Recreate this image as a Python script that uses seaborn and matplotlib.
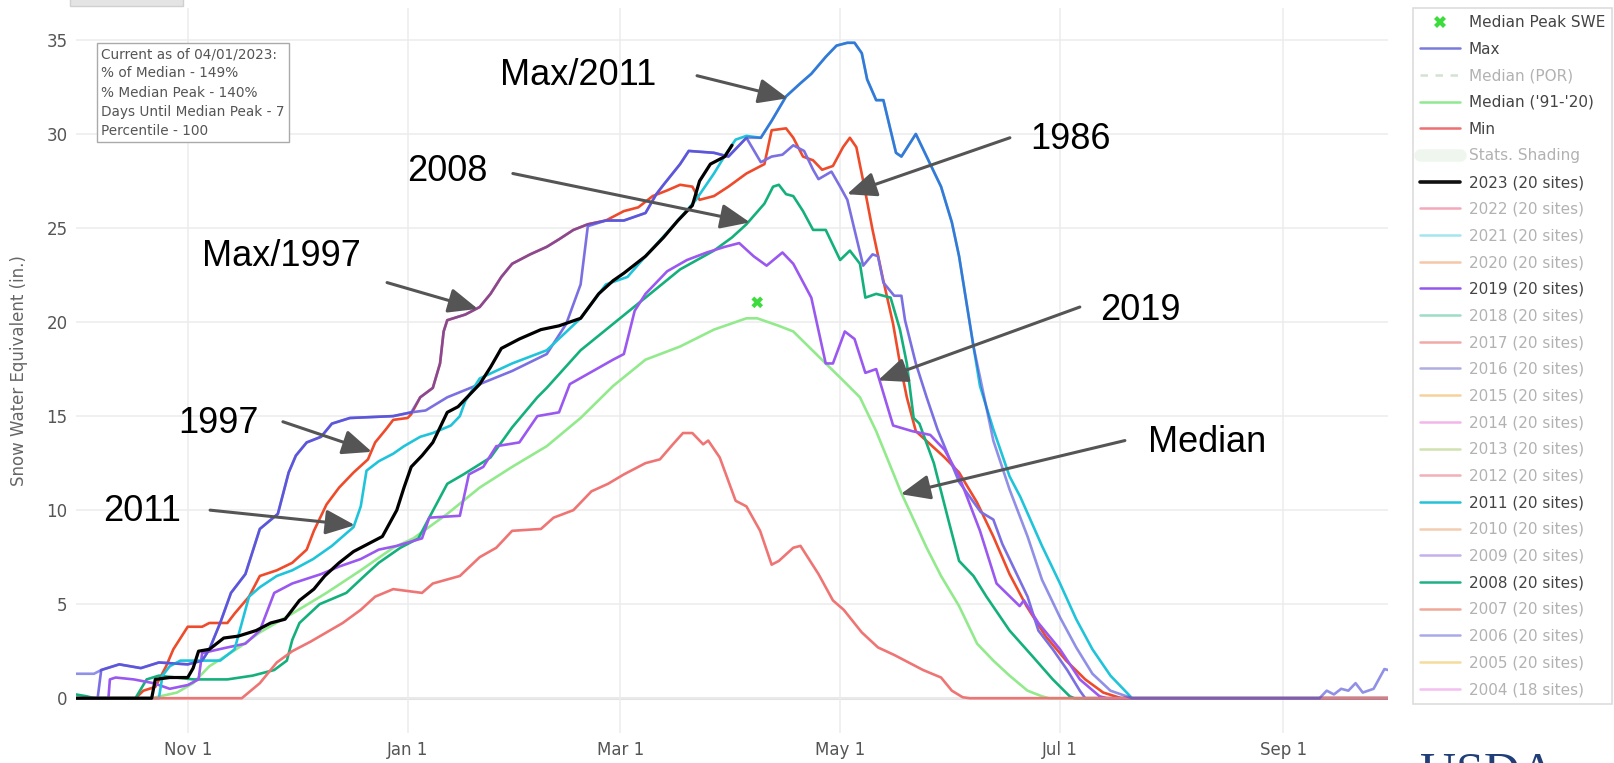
import numpy as np
import pandas as pd
import seaborn as sns
import matplotlib.pyplot as plt
from matplotlib.lines import Line2D
from matplotlib.patches import Rectangle

# SWE (in.); days counted from Oct 1 2022
max_days = [0, 5, 7, 12, 18, 23, 31, 35, 37, 40, 43, 47, 51, 56, 59, 61, 64, 68, 71, 76, 88, 93, 95.5, 99, 101, 102,
            103, 108, 112, 115, 118, 121, 126, 130.6, 134, 138, 142, 147, 152, 158, 161, 163, 167.6, 170, 177, 181,
            186, 190, 193, 197, 201, 204, 208, 211, 214, 216, 218, 219.5, 222, 224, 227.5, 229, 233, 237, 240, 243,
            245, 249, 251, 254.5, 259, 264, 268, 273, 277.5, 282, 287, 293, 345, 347, 349, 351, 353, 355, 357, 360,
            362, 363, 364]
max_swe = [1.3, 1.3, 1.5, 1.8, 1.6, 1.9, 1.8, 2.0, 2.6, 4.0, 5.6, 6.6, 9.0, 9.8, 12.0, 12.9, 13.6, 13.9, 14.6, 14.9,
           15.0, 15.2, 16.0, 16.5, 17.8, 19.5, 20.1, 20.4, 20.8, 21.5, 22.4, 23.1, 23.6, 24.0, 24.4, 24.9, 25.2, 25.4,
           25.4, 25.8, 26.8, 27.3, 28.4, 29.1, 29.0, 28.8, 29.8, 29.8, 30.7, 32.0, 32.7, 33.2, 34.1, 34.7, 34.85,
           34.85, 34.3, 32.9, 31.8, 31.8, 29.0, 28.8, 30.0, 28.4, 27.2, 25.3, 23.5, 18.7, 16.9, 13.7, 11.1, 8.6, 6.3,
           4.3, 2.7, 1.3, 0.4, 0, 0, 0.4, 0.2, 0.5, 0.4, 0.8, 0.3, 0.5, 1.2, 1.55, 1.5]

median_days = [0, 21, 28, 32.5, 37, 42, 46, 51, 60, 69.5, 79, 88, 93.6, 103, 112, 121, 130.6, 140, 149, 158, 167.6,
               177, 186, 189, 195, 199, 208, 212.8, 217.5, 222, 229, 236, 240, 245, 250, 254.5, 259, 264, 268, 270, 364]
median_swe = [0, 0, 0.3, 0.8, 1.7, 2.3, 2.8, 3.5, 4.5, 5.6, 6.8, 8.0, 8.5, 9.8, 11.2, 12.3, 13.4, 14.9, 16.6, 18.0,
              18.7, 19.6, 20.2, 20.2, 19.8, 19.5, 17.8, 16.9, 16.0, 14.2, 10.9, 8.0, 6.5, 4.9, 2.9, 2.0, 1.2, 0.4, 0.1,
              0, 0]

min_days = [0, 46, 51, 55.7, 60, 65, 69.5, 74, 79, 83, 88, 96, 99, 106.5, 112, 116.6, 121, 129, 132.5, 138, 143,
            147.6, 152, 158, 162, 165.6, 168.4, 171, 174, 175.4, 178.6, 183, 186, 189.8, 193, 195, 199, 201, 203, 206,
            210, 213, 218, 222.5, 227, 232, 235, 240, 243, 246, 248, 364]
min_swe = [0, 0, 0.8, 1.9, 2.5, 3.0, 3.5, 4.0, 4.7, 5.4, 5.8, 5.6, 6.1, 6.5, 7.5, 8.0, 8.9, 9.0, 9.6, 10.0, 11.0, 11.4,
           11.9, 12.5, 12.7, 13.5, 14.1, 14.1, 13.5, 13.7, 12.8, 10.5, 10.2, 8.9, 7.1, 7.3, 8.0, 8.1, 7.5, 6.6, 5.2,
           4.7, 3.5, 2.7, 2.3, 1.8, 1.5, 1.1, 0.4, 0.05, 0, 0]

y2023_days = [0, 21, 22, 26, 31, 32.5, 34, 37, 41, 45, 50, 54, 58, 62, 66, 69, 73, 77, 81, 85, 87, 89, 91, 93, 96, 99,
              103, 106, 109, 112, 115, 118, 123, 129, 134, 140, 145, 149, 152, 158, 163, 167, 171, 173, 176, 180, 182]
y2023_swe = [0, 0, 1.0, 1.1, 1.1, 1.6, 2.5, 2.6, 3.2, 3.3, 3.6, 4.0, 4.2, 5.2, 5.8, 6.5, 7.2, 7.8, 8.2, 8.6, 9.3, 10.0,
             11.2, 12.3, 12.9, 13.6, 15.2, 15.5, 16.1, 16.7, 17.6, 18.6, 19.1, 19.6, 19.8, 20.2, 21.5, 22.2, 22.6, 23.5,
             24.5, 25.4, 26.2, 27.5, 28.4, 28.8, 29.4]

y2019_days = [0, 9, 9.4, 11, 16, 21.5, 26, 31, 34, 35, 42, 47, 51, 55, 60, 68, 73, 79, 84, 89, 96, 98, 106.5, 109,
              113, 116.6, 123, 128, 134, 137, 149, 152, 155, 158, 164, 169.5, 175, 180, 184, 188, 191.6, 196, 199,
              204, 208, 210, 213.3, 216, 219, 222, 226.7, 232, 237, 241, 245, 250.8, 255.4, 261.8, 263, 267, 273,
              278.5, 284, 286, 364]
y2019_swe = [0, 0, 1.0, 1.1, 1.0, 0.8, 0.5, 0.7, 1.0, 2.4, 2.7, 2.9, 3.6, 5.6, 6.1, 6.6, 7.0, 7.4, 7.9, 8.1, 8.5, 9.6,
             9.7, 11.9, 12.3, 13.4, 13.6, 15.0, 15.2, 16.7, 18.0, 18.3, 20.6, 21.5, 22.7, 23.3, 23.7, 24.0, 24.2, 23.5,
             23.0, 23.7, 23.1, 21.3, 17.8, 17.8, 19.5, 19.1, 17.3, 17.5, 14.5, 14.2, 14.0, 13.2, 11.8, 8.9, 6.1, 4.9,
             5.2, 4.0, 2.6, 1.0, 0.1, 0, 0]

y2011_days = [0, 23, 24, 26, 29, 35, 40, 44, 46, 48, 51, 55.7, 60, 65.8, 71, 77, 79, 80.6, 84, 88, 91, 95.5, 99, 104,
              106.5, 108, 112, 121, 130.6, 140, 147, 153, 158, 165.6, 172, 177, 180.5, 183, 186, 190, 193, 197, 201,
              204, 208, 211, 214, 216, 218, 219.5, 222, 224, 227.5, 229, 233, 237, 240, 243, 245, 249, 250.8, 254.5,
              259, 262, 268, 273, 277.5, 282, 287, 293, 364]
y2011_swe = [0, 0, 1.2, 1.7, 2.0, 2.0, 2.0, 2.6, 4.0, 5.4, 5.9, 6.5, 6.8, 7.4, 8.1, 9.1, 10.2, 12.1, 12.6, 13.0, 13.4,
             13.9, 14.1, 14.5, 15.0, 15.8, 17.0, 17.8, 18.5, 20.2, 22.0, 22.4, 23.5, 25.1, 26.5, 27.9, 29.0, 29.7, 29.9,
             29.8, 30.7, 32.0, 32.7, 33.2, 34.1, 34.7, 34.85, 34.85, 34.3, 32.9, 31.8, 31.8, 29.0, 28.8, 30.0, 28.4,
             27.2, 25.3, 23.5, 18.7, 16.6, 14.3, 11.8, 10.7, 8.1, 6.1, 4.2, 2.6, 1.2, 0, 0]

y2008_days = [0, 3, 5, 16.5, 19.6, 23, 32.5, 42, 49, 55, 58.5, 60, 62, 67.6, 75, 80, 84, 90, 95, 98, 103, 107.5, 115,
              121, 128, 130.6, 140, 149, 158, 167.6, 177, 182, 186, 191, 193.4, 195, 197, 199, 201.7, 204.5, 208, 212,
              214.7, 217.5, 219, 222, 226, 228.6, 230.5, 232.4, 234, 238, 242, 245, 249, 252.6, 259, 265.5, 271,
              275.7, 277, 364]
y2008_swe = [0.2, 0.1, 0, 0, 1.0, 1.2, 1.0, 1.0, 1.2, 1.5, 2.0, 3.1, 4.0, 5.0, 5.6, 6.5, 7.2, 8.0, 8.5, 9.6, 11.4,
             11.9, 12.8, 14.4, 16.0, 16.5, 18.5, 19.9, 21.3, 22.8, 23.8, 24.5, 25.2, 26.3, 27.2, 27.3, 26.8, 26.7,
             25.9, 24.9, 24.9, 23.3, 23.8, 23.1, 21.3, 21.5, 21.3, 19.6, 17.8, 14.9, 14.6, 12.5, 9.5, 7.3, 6.5, 5.4,
             3.6, 2.2, 1.0, 0.1, 0, 0]

y1997_days = [0, 16.5, 18.7, 22, 25, 27, 31, 35, 37, 42, 44, 48, 51, 55.7, 60, 64, 66, 69.5, 73, 77, 81, 83, 86, 88,
              92, 93, 95.5, 99, 101, 102, 103, 108, 112, 115, 118, 121, 126, 130.6, 134, 138, 142, 147, 152, 156, 160,
              164, 167.6, 171, 173, 177, 181, 186, 191, 193, 197, 199, 201.7, 204.5, 207, 210, 212.8, 214.7, 216.5,
              218.4, 221, 224, 226.7, 228.6, 230.5, 233, 237, 241, 245, 250, 254.5, 259, 263.7, 269, 274.7, 280, 285,
              290, 364]
y1997_swe = [0, 0, 0.4, 0.6, 1.7, 2.6, 3.8, 3.8, 4.0, 4.0, 4.5, 5.4, 6.5, 6.8, 7.2, 7.9, 8.9, 10.3, 11.2, 12.0, 12.7,
             13.6, 14.3, 14.8, 14.9, 15.1, 16.0, 16.5, 17.8, 19.5, 20.1, 20.4, 20.8, 21.5, 22.4, 23.1, 23.6, 24.0,
             24.4, 24.9, 25.2, 25.4, 25.9, 26.1, 26.7, 27.0, 27.3, 27.2, 26.5, 26.7, 27.2, 27.9, 28.4, 30.2, 30.3,
             29.8, 28.8, 28.6, 28.1, 28.3, 29.3, 29.8, 29.3, 27.5, 24.9, 22.2, 19.9, 17.8, 16.0, 14.2, 13.5, 12.8,
             12.0, 10.4, 8.6, 6.6, 4.9, 3.3, 2.0, 1.0, 0.3, 0, 0]

y1986_days = [0, 6, 7, 12, 18, 23, 31, 35, 37, 40, 43, 47, 51, 56, 59, 61, 64, 68, 71, 76, 88, 93, 97, 103, 112, 121,
              130.6, 136, 140, 142, 147, 152, 158, 161, 163, 167.6, 170, 177, 181, 186, 190, 193, 196, 199, 202,
              204.5, 206, 209.6, 212, 214, 216, 218.4, 221, 222.5, 224, 227, 229, 230, 233, 236, 239, 245, 251, 254.5,
              257, 261, 264, 267, 271, 275, 278.5, 280, 364]
y1986_swe = [0, 0, 1.5, 1.8, 1.6, 1.9, 1.8, 2.0, 2.6, 4.0, 5.6, 6.6, 9.0, 9.8, 12.0, 12.9, 13.6, 13.9, 14.6, 14.9,
             15.0, 15.2, 15.3, 16.0, 16.7, 17.4, 18.3, 19.9, 22.0, 25.1, 25.4, 25.4, 25.8, 26.8, 27.3, 28.4, 29.1,
             29.0, 28.8, 29.8, 28.5, 28.8, 28.9, 29.4, 29.1, 28.1, 27.6, 28.0, 27.2, 26.5, 24.9, 23.0, 23.6, 23.5,
             22.1, 21.4, 21.4, 20.1, 17.8, 16.0, 14.3, 11.5, 9.9, 9.5, 8.2, 6.6, 5.4, 3.6, 2.6, 1.5, 0.4, 0, 0]

median_peak_day = 189
median_peak_swe = 21.05

tick_days = [31, 92, 151, 212, 273, 335]
tick_labels = ["Nov 1", "Jan 1", "Mar 1", "May 1", "Jul 1", "Sep 1"]

legend_labels = ["Median Peak SWE", "Max", "Median (POR)", "Median ('91-'20)", "Min", "Stats. Shading",
                 "2023 (20 sites)", "2022 (20 sites)", "2021 (20 sites)", "2020 (20 sites)", "2019 (20 sites)",
                 "2018 (20 sites)", "2017 (20 sites)", "2016 (20 sites)", "2015 (20 sites)", "2014 (20 sites)",
                 "2013 (20 sites)", "2012 (20 sites)", "2011 (20 sites)", "2010 (20 sites)", "2009 (20 sites)",
                 "2008 (20 sites)", "2007 (20 sites)", "2006 (20 sites)", "2005 (20 sites)", "2004 (18 sites)"]
legend_colors = ["#3ddc3d", "#7a7ade", "#d3e3d3", "#90e890", "#ef7070", "#eef6ee", "#111111", "#f3a9b8", "#a3e7ee",
                 "#f5c6a8", "#9457ee", "#9fdcc4", "#f1a9a6", "#aeaee2", "#f4d29a", "#f3b5ea", "#cfe2b0", "#f3afb8",
                 "#22c3d9", "#f3cdb0", "#c4b0ea", "#1fb184", "#f0a89a", "#a9a9ea", "#f4dc9c", "#f3c0f0"]
legend_active = [True, True, False, True, True, False, True, False, False, False, True, False, False, False,
                 False, False, False, False, True, False, False, True, False, False, False, False]

start = pd.Timestamp("2022-10-01")


def to_dates(days):
    return start + pd.to_timedelta(np.asarray(days, dtype=float), unit="D")


sns.set_theme(style="white")
plt.rcParams["font.family"] = ["DejaVu Sans"]

W, H = 1615, 763
fig = plt.figure(figsize=(W / 100, H / 100), dpi=100)
ax = fig.add_axes([76 / W, 30 / H, (1388 - 76) / W, (755 - 30) / H])

series = [
    (median_days, median_swe, "#92ea8c", 1.0, 1.9),
    (y1997_days, y1997_swe, "#ee4b2b", 1.0, 1.9),
    (y1986_days, y1986_swe, "#7b70e2", 1.0, 1.9),
    (y2008_days, y2008_swe, "#14b07c", 1.0, 1.9),
    (y2019_days, y2019_swe, "#9a58f0", 1.0, 1.9),
    (y2011_days, y2011_swe, "#20c4da", 1.0, 1.9),
    (min_days, min_swe, "#ef7575", 1.0, 1.9),
    (max_days, max_swe, "#4646d6", 0.6, 1.9),
    (y2023_days, y2023_swe, "#000000", 1.0, 2.3),
]
for d, v, c, a, w in series:
    sns.lineplot(x=to_dates(d), y=v, color=c, alpha=a, lw=w, estimator=None, ax=ax)

sns.scatterplot(x=to_dates([median_peak_day]), y=[median_peak_swe], marker="X", s=70,
                color="#3ddc3d", edgecolor="none", ax=ax, zorder=5)

ax.set_xlim(start, start + pd.Timedelta(days=364))
ax.set_ylim(-1.85, 36.7)
ax.set_yticks(range(0, 36, 5))
ax.set_xticks(to_dates(tick_days))
ax.set_xticklabels(tick_labels)
ax.grid(True, color="#ececec", lw=1.1)
ax.axhline(0, color="#e2e2e2", lw=2.2, zorder=0)
for s in ax.spines.values():
    s.set_visible(False)
ax.tick_params(length=0, labelsize=12, labelcolor="#555555")
ax.tick_params(axis="x", pad=6)
ax.tick_params(axis="y", pad=6)
ax.set_xlabel("")
ax.set_ylabel("")
fig.text(19 / W, 1 - 371 / H, "Snow Water Equivalent (in.)", rotation=90, ha="center", va="center",
         fontsize=12, color="#666666")

# info box
fig.text(101 / W, 1 - 47 / H, "Current as of 04/01/2023:\n% of Median - 149%\n% Median Peak - 140%\n"
         "Days Until Median Peak - 7\nPercentile - 100", ha="left", va="top",
         fontsize=9.8, color="#555555", linespacing=1.48,
         bbox=dict(boxstyle="square,pad=0.3", fc="white", ec="#aaaaaa", lw=1))

# callouts: label, text (day, swe), arrow tail (day, swe), arrow tip (day, swe)
callouts = [
    ("Max/2011", (139.3, 33.1), (172.3, 33.1), (197.5, 31.9)),
    ("2008", (102.9, 28.0), (121.2, 27.9), (187.0, 25.3)),
    ("1986", (276.0, 29.7), (259.1, 29.8), (213.9, 26.8)),
    ("Max/1997", (56.9, 23.5), (86.3, 22.1), (111.5, 20.7)),
    ("2019", (295.4, 20.6), (278.5, 20.8), (222.5, 16.9)),
    ("1997", (39.4, 14.6), (57.4, 14.7), (82.1, 13.1)),
    ("2011", (18.3, 9.95), (37.2, 10.0), (77.4, 9.2)),
    ("Median", (313.7, 13.6), (291.0, 13.7), (228.8, 10.85)),
]
for label, tpos, tail, tip in callouts:
    ax.text(to_dates([tpos[0]])[0], tpos[1], label, ha="center", va="center", fontsize=26,
            family="Liberation Sans", color="black", zorder=10)
    ax.annotate("", xy=(to_dates([tip[0]])[0], tip[1]), xytext=(to_dates([tail[0]])[0], tail[1]),
                arrowprops=dict(arrowstyle="-|>,head_length=0.9,head_width=0.38", color="#555555", lw=2.2,
                                shrinkA=0, shrinkB=0, mutation_scale=20), zorder=10)

# legend
handles = []
for lab, col, on in zip(legend_labels, legend_colors, legend_active):
    if lab == "Median Peak SWE":
        h = Line2D([], [], ls="none", marker="X", color=col, markersize=8, markeredgewidth=0)
    elif lab == "Median (POR)":
        h = Line2D([], [], ls=(0, (3, 3)), color=col, lw=1.8)
    elif lab == "Stats. Shading":
        h = Line2D([], [], color=col, lw=9)
    else:
        h = Line2D([], [], color=col, lw=2.6 if lab.startswith("2023") else 1.8)
    handles.append(h)
leg = fig.legend(handles, legend_labels, loc="upper left", bbox_to_anchor=(1413 / W, 1 - 8 / H),
                 frameon=True, fancybox=False, fontsize=11, handlelength=2.6, handletextpad=0.6,
                 labelspacing=0.765, borderpad=0.45, borderaxespad=0)
for txt, on in zip(leg.get_texts(), legend_active):
    txt.set_color("#444444" if on else "#b2b2b2")
leg.get_frame().set_edgecolor("#d4d4d4")
leg.get_frame().set_linewidth(1.2)

# cut-off bits at the edges of the screenshot
fig.patches.append(Rectangle((70 / W, 1 - 6 / H), 113 / W, 10 / H, transform=fig.transFigure,
                             fc="#e4e4e4", ec="#d0d0d0", lw=1))
fig.text(1420 / W, 1 - 786 / H, "USDA", fontsize=36, family="Liberation Serif", color="#203f78",
         ha="left", va="baseline")

fig.savefig("out.png", dpi=100)
